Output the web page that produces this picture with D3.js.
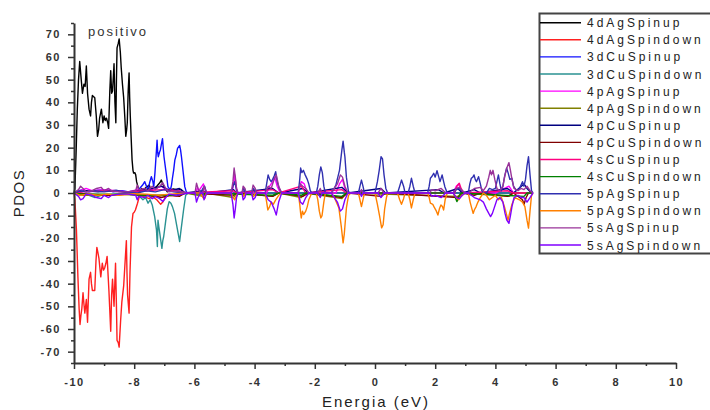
<!DOCTYPE html>
<html>
<head>
<meta charset="utf-8">
<script src="https://cdn.jsdelivr.net/npm/d3@7"></script>
<style>
  html, body { margin: 0; padding: 0; background: #fff; }
  svg { display: block; font-family: "Liberation Sans", Arial, sans-serif; }
  .axis path, .axis line { stroke: #333; }
  .axis text { fill: #333; font-size: 11px; font-weight: bold; letter-spacing: 1.5px; }
</style>
</head>
<body>
<div id="chart"></div>
<script>
const width = 710;
const height = 410;

const xTicks = [-10, -8, -6, -4, -2, 0, 2, 4, 6, 8, 10];
const xMinor = [-9, -7, -5, -3, -1, 1, 3, 5, 7, 9];
const yTicks = [-70, -60, -50, -40, -30, -20, -10, 0, 10, 20, 30, 40, 50, 60, 70];
const yMinor = [-75, -65, -55, -45, -35, -25, -15, -5, 5, 15, 25, 35, 45, 55, 65, 75];

// [energy eV, PDOS]
const ag4dUp = [[-10,0],[-9.97,2],[-9.93,18],[-9.89,37],[-9.85,50],[-9.81,58],[-9.76,50],[-9.72,44],[-9.67,48],[-9.63,47],[-9.59,56],[-9.55,44],[-9.5,37],[-9.45,34],[-9.42,40],[-9.39,43],[-9.31,42],[-9.26,34],[-9.22,25],[-9.18,28],[-9.15,33],[-9.09,37],[-9.04,31],[-9.0,34],[-8.96,32],[-8.92,33],[-8.88,31],[-8.85,28.5],[-8.81,45],[-8.78,54],[-8.75,44],[-8.72,45],[-8.69,52],[-8.67,57],[-8.64,40],[-8.61,31],[-8.59,50],[-8.57,64],[-8.53,66],[-8.5,68],[-8.46,62],[-8.43,55],[-8.39,48],[-8.35,42],[-8.31,33],[-8.28,25],[-8.25,28],[-8.23,31],[-8.2,45],[-8.17,53],[-8.15,42],[-8.13,34],[-8.1,24],[-8.07,14.5],[-8.04,10],[-8.02,8.8],[-7.98,9],[-7.95,8],[-7.92,5],[-7.89,3.5],[-7.85,1.5],[-7.82,0.6],[-7.75,2],[-7.7,1],[-7.6,2.5],[-7.5,3.5],[-7.45,1.5],[-7.35,2],[-7.25,3],[-7.15,4.5],[-7.1,5.7],[-7.05,4],[-6.98,2],[-6.9,0.5],[-6.8,1.5],[-6.7,1.8],[-6.55,1.2],[-6.45,1.6],[-6.35,0.3],[-6.2,0],[5.25,0]];
const ag4dDown = [[-10,0],[-9.97,-3],[-9.92,-16],[-9.87,-37],[-9.83,-51],[-9.8,-58],[-9.77,-54],[-9.74,-51],[-9.7,-44],[-9.67,-49],[-9.64,-53],[-9.59,-47],[-9.55,-57],[-9.5,-38],[-9.45,-35],[-9.42,-40],[-9.39,-43],[-9.31,-43],[-9.27,-30],[-9.24,-24],[-9.21,-26],[-9.17,-29],[-9.11,-37],[-9.06,-31],[-9.02,-34],[-8.98,-33],[-8.94,-31],[-8.9,-28],[-8.84,-43],[-8.8,-55],[-8.78,-61],[-8.75,-45],[-8.72,-38],[-8.67,-50],[-8.62,-31],[-8.59,-50],[-8.57,-65],[-8.53,-66],[-8.5,-68],[-8.45,-56],[-8.41,-48],[-8.35,-41],[-8.31,-32],[-8.26,-21],[-8.24,-35],[-8.22,-45],[-8.17,-53],[-8.14,-35],[-8.09,-15],[-8.04,-9],[-8.0,-8.5],[-7.96,-7.5],[-7.89,-4.5],[-7.82,-1],[-7.7,-1.5],[-7.5,-2.5],[-7.4,-1.5],[-7.25,-3],[-7.12,-5],[-7.05,-4],[-6.95,-1.5],[-6.8,-1],[-6.6,-1.2],[-6.4,-0.5],[-6.2,0],[5.25,0]];
const cu3dUp = [[-10,0],[-9.9,0.8],[-9.7,1.5],[-9.5,0.5],[-9.2,1.2],[-8.9,1.5],[-8.7,0.5],[-8.4,1],[-8.1,0.3],[-7.9,0.5],[-7.82,2],[-7.72,3.5],[-7.65,5],[-7.58,2.5],[-7.54,1.3],[-7.49,4.4],[-7.43,7.2],[-7.38,5],[-7.35,2.8],[-7.31,9],[-7.29,13],[-7.26,19],[-7.24,23.3],[-7.22,18],[-7.2,16],[-7.16,18],[-7.13,19],[-7.09,22],[-7.06,24],[-7.03,19],[-7.01,16],[-6.95,10],[-6.91,6],[-6.88,2.8],[-6.8,1.3],[-6.76,3.5],[-6.73,6.5],[-6.69,10],[-6.65,14.5],[-6.6,17],[-6.56,19.7],[-6.49,21],[-6.46,19],[-6.43,16],[-6.38,10],[-6.32,2.8],[-6.27,0.5],[-6.2,0],[5.25,0]];
const cu3dDown = [[-10,0],[-9.8,-0.8],[-9.5,-1],[-9.3,-2],[-9.1,-1],[-8.8,-0.8],[-8.5,-0.5],[-8.0,-0.5],[-7.82,-1.5],[-7.71,-3],[-7.62,-2],[-7.54,-4.5],[-7.47,-3],[-7.4,-5.3],[-7.32,-10.4],[-7.26,-16.3],[-7.23,-23.6],[-7.21,-12],[-7.18,-15],[-7.15,-17.8],[-7.12,-20.7],[-7.08,-24.4],[-7.05,-21],[-7.02,-19.2],[-6.95,-12],[-6.9,-7],[-6.84,-3.8],[-6.78,-4.5],[-6.73,-6],[-6.66,-9],[-6.62,-12],[-6.54,-17.8],[-6.49,-21.4],[-6.46,-18],[-6.43,-14.8],[-6.36,-7.5],[-6.29,-1],[-6.2,0],[5.25,0]];
const ag4pUp = [[-10,0],[-9.8,1],[-9.6,2],[-9.4,1],[-9.0,1.5],[-8.6,1],[-8.2,0.5],[-7.9,1.5],[-7.6,1],[-7.3,2],[-7.1,3],[-6.9,1],[-6.6,1.5],[-6.3,0],[-5.95,0],[-5.9,2.5],[-5.85,1],[-5.7,4],[-5.6,0],[-4.75,0],[-4.7,4],[-4.66,8],[-4.6,2],[-4.55,0],[-3.6,0],[-3.5,3],[-3.4,5],[-3.33,7],[-3.25,3],[-3.15,0],[-2.55,0],[-2.45,5],[-2.35,4],[-2.25,0],[-1.3,0],[-1.18,4],[-1.08,6],[-1.0,2],[-0.9,0],[2.6,0],[2.7,3],[2.78,4],[2.86,1],[2.95,0],[4.0,0],[4.3,2],[4.45,3],[4.6,0],[5.25,0]];
const ag4pDown = [[-10,0],[-9.7,-1],[-9.3,-1],[-8.9,-1],[-8.5,-0.5],[-7.9,-1],[-7.3,-1.5],[-7.0,-1],[-6.6,-1],[-6.3,0],[-5.7,-1.5],[-5.6,0],[-4.7,-2],[-4.6,0],[-3.4,-1.5],[-3.2,0],[-2.45,-2],[-2.3,0],[-1.1,-2.5],[-0.95,0],[2.75,-1.5],[2.9,0],[4.45,-1.5],[4.6,0],[5.25,0]];
const cu4pUp = [[-10,0],[-9.6,1],[-9.2,0.5],[-8.8,1],[-8.3,0.5],[-7.8,1],[-7.4,2],[-7.1,3],[-6.8,1],[-6.5,2],[-6.3,0],[-5.7,1],[-5.6,0],[-4.7,1.5],[-4.6,0],[-3.4,2],[-3.2,0],[-2.4,2],[-2.2,0],[-1.1,2.5],[-0.9,0],[0.2,2],[0.35,0],[2.1,1.5],[2.3,0],[2.75,2],[2.9,0],[3.3,1.5],[3.5,0],[4.4,2],[4.6,0],[4.95,4],[5.05,2],[5.2,0],[5.25,0]];
const cu4pDown = [[-10,0],[-9.5,-0.5],[-8.8,-1],[-8.2,-0.5],[-7.5,-1],[-7.1,-2],[-6.8,-1],[-6.5,-1.5],[-6.3,0],[-4.7,-1],[-4.6,0],[-3.4,-1.5],[-3.2,0],[-2.4,-1.5],[-2.2,0],[-1.1,-2],[-0.9,0],[0.2,-1.5],[0.35,0],[2.75,-2],[2.9,0],[3.3,-1],[3.5,0],[4.4,-1.5],[4.6,0],[4.9,-3],[4.95,-5],[5.02,-2],[5.1,0],[5.25,0]];
const cu4sUp = [[-10,0],[-9.7,0.5],[-9.0,1],[-8.3,0.5],[-7.6,1],[-7.1,1.5],[-6.6,1],[-6.3,0],[-4.7,1],[-4.6,0],[-3.4,1.5],[-3.2,0],[-2.45,3],[-2.35,1],[-2.3,0],[-1.1,1.5],[-0.95,0],[2.65,0],[2.72,3],[2.8,4.3],[2.86,2],[2.95,0],[4.4,1],[4.6,0],[5.25,0]];
const cu4sDown = [[-10,0],[-9.7,-0.5],[-9.0,-0.5],[-8.3,-0.5],[-7.6,-1],[-7.1,-1],[-6.6,-1],[-6.3,0],[-5.7,-0.5],[-5.6,0],[-3.4,-1],[-3.2,0],[-2.45,-1],[-2.3,0],[-1.1,-1.5],[-0.95,0],[2.6,0],[2.67,-2],[2.72,-3.8],[2.78,-2],[2.85,0],[4.95,-1.5],[5.05,0],[5.25,0]];
const ag5pUp = [[-10,0],[-9.8,1],[-9.6,0.5],[-9.3,1],[-9.0,0.5],[-8.6,1.2],[-8.3,0.3],[-7.9,0],[-7.6,1],[-7.3,0.5],[-7.0,1.5],[-6.7,0.5],[-6.3,0],[-5.8,0],[-5.72,2],[-5.66,3],[-5.6,0],[-4.78,0],[-4.72,3],[-4.66,5],[-4.6,1],[-4.55,0],[-4.42,0],[-4.36,2],[-4.3,0],[-4.1,0],[-4.03,2],[-3.97,0],[-3.65,0],[-3.6,4],[-3.55,8],[-3.5,6],[-3.45,5],[-3.4,6],[-3.35,7.5],[-3.3,9.4],[-3.25,5],[-3.18,2],[-3.1,0],[-2.55,0],[-2.5,6],[-2.47,11],[-2.43,9],[-2.38,10],[-2.32,8],[-2.25,6],[-2.2,4],[-2.15,1],[-2.1,0],[-1.95,0],[-1.9,3],[-1.85,8],[-1.8,11.5],[-1.75,9],[-1.7,3],[-1.65,0],[-1.45,0],[-1.4,1],[-1.3,3.5],[-1.18,10],[-1.1,19],[-1.06,22.9],[-1.02,18],[-1.0,16],[-0.95,7],[-0.88,0.5],[-0.8,0],[-0.55,0],[-0.5,3],[-0.45,5.7],[-0.4,3],[-0.35,0],[0.0,0],[0.08,5],[0.14,10],[0.2,16],[0.25,15],[0.3,8],[0.36,2],[0.42,0],[0.75,0],[0.82,3],[0.88,5.7],[0.95,3],[1.0,0],[1.1,0],[1.16,3],[1.21,6.5],[1.27,3],[1.33,0],[1.75,0],[1.8,3],[1.84,6.5],[1.9,7.5],[1.95,8.7],[2.0,7],[2.06,9.8],[2.12,7],[2.16,5],[2.23,8],[2.28,5],[2.32,2.8],[2.4,0],[2.6,0],[2.7,1.5],[2.8,2],[2.9,1],[3.0,0],[3.1,0],[3.15,4],[3.2,6.5],[3.25,7],[3.29,8],[3.33,6],[3.37,5],[3.44,7.2],[3.5,4],[3.55,1],[3.6,0],[3.7,0],[3.8,2],[3.9,1.5],[4.0,2],[4.05,5],[4.1,8],[4.15,4],[4.2,1],[4.25,3],[4.3,7],[4.37,11],[4.42,9],[4.48,6],[4.55,6.5],[4.6,3],[4.7,1],[4.8,2],[4.9,5],[4.95,3],[5.0,6],[5.05,12],[5.1,16],[5.15,8],[5.2,1],[5.25,0]];
const ag5pDown = [[-10,0],[-9.8,-1],[-9.5,-0.5],[-9.2,-1],[-8.9,-0.5],[-8.5,-1],[-8.0,-0.3],[-7.6,-0.5],[-7.2,-1],[-6.8,-0.5],[-6.3,0],[-5.8,0],[-5.72,-2],[-5.66,-2.5],[-5.6,0],[-4.78,0],[-4.72,-2],[-4.66,-3],[-4.6,-1],[-4.55,0],[-4.42,0],[-4.36,-1.5],[-4.3,0],[-4.1,0],[-4.03,-1.5],[-3.97,0],[-3.65,0],[-3.6,-4],[-3.56,-7.5],[-3.5,-6],[-3.45,-4],[-3.38,-5],[-3.3,-3],[-3.2,-1],[-3.1,0],[-2.55,0],[-2.5,-5],[-2.47,-9],[-2.45,-11],[-2.41,-8],[-2.37,-9.5],[-2.3,-8],[-2.25,-6],[-2.2,-3],[-2.1,0],[-1.95,0],[-1.9,-3],[-1.85,-8],[-1.8,-11],[-1.76,-10],[-1.7,-4],[-1.65,0],[-1.45,0],[-1.35,-2],[-1.2,-6.6],[-1.12,-14.8],[-1.06,-22],[-1.02,-18],[-1.0,-14.8],[-0.95,-6.6],[-0.88,-1],[-0.8,0],[-0.55,0],[-0.5,-3],[-0.45,-6],[-0.4,-3],[-0.35,0],[0.0,0],[0.08,-5],[0.15,-10],[0.22,-15.4],[0.27,-14],[0.32,-7],[0.38,-2],[0.42,0],[0.75,0],[0.82,-3],[0.88,-5],[0.95,-2.5],[1.0,0],[1.1,0],[1.16,-3],[1.21,-6.6],[1.27,-3],[1.33,0],[1.75,0],[1.8,-2],[1.84,-4.5],[1.92,-5],[1.98,-6.6],[2.04,-8],[2.09,-9.7],[2.14,-7],[2.19,-5.3],[2.24,-6],[2.28,-7.5],[2.33,-3],[2.4,0],[2.6,0],[2.7,-2],[2.78,-3],[2.85,-1.5],[3.0,0],[3.1,0],[3.16,-4],[3.22,-7],[3.26,-9],[3.3,-7.5],[3.36,-6],[3.42,-4],[3.5,-2],[3.6,0],[3.7,-1],[3.8,-3],[3.9,-2],[4.0,-1],[4.1,-3],[4.2,-2],[4.3,-6],[4.38,-10],[4.42,-12],[4.47,-9],[4.55,-5],[4.65,-2],[4.8,-3],[4.9,-4],[4.98,-6],[5.05,-12],[5.1,-15.5],[5.15,-8],[5.2,-1],[5.25,0]];
const ag5sUp = [[-10,0],[-9.85,1.5],[-9.78,3],[-9.7,2],[-9.6,0.5],[-9.4,1],[-9.25,2],[-9.1,2.5],[-9.0,1],[-8.85,2],[-8.75,1],[-8.5,0.5],[-8.2,0.5],[-7.95,1],[-7.9,3.5],[-7.85,1.5],[-7.65,2],[-7.55,1],[-7.4,3],[-7.3,1.5],[-7.15,3],[-7.05,4.5],[-6.95,2],[-6.85,0.5],[-6.6,1],[-6.4,0.5],[-6.2,0],[-5.98,0],[-5.93,4.3],[-5.88,2],[-5.8,0],[-5.72,0],[-5.68,3],[-5.62,1],[-5.58,0],[-4.78,0],[-4.72,5],[-4.68,11],[-4.64,7],[-4.6,2],[-4.55,0],[-4.42,0],[-4.38,3],[-4.32,2],[-4.28,0],[-4.1,0],[-4.05,3.5],[-3.98,2],[-3.93,0],[-3.65,0],[-3.55,3],[-3.45,2],[-3.35,6],[-3.28,8],[-3.2,3],[-3.1,0],[-2.55,0],[-2.48,4],[-2.4,3],[-2.3,2],[-2.2,0],[-1.9,0],[-1.82,2],[-1.75,0],[-1.45,0],[-1.35,2],[-1.25,4],[-1.15,8],[-1.08,7],[-1.0,3],[-0.9,0],[-0.5,0],[-0.45,1.5],[-0.4,0],[0.1,0],[0.2,2],[0.3,0],[1.8,0],[1.9,1.5],[2.0,1],[2.2,2],[2.35,0],[2.6,0],[2.7,2],[2.8,2.5],[2.9,1],[3.0,0],[3.1,0],[3.3,2],[3.5,2.5],[3.6,1],[3.7,3],[3.78,7],[3.83,10],[3.87,8],[3.92,10],[3.98,6],[4.05,2],[4.15,1],[4.25,3],[4.32,8],[4.38,11],[4.45,13.4],[4.5,10],[4.55,6],[4.62,2],[4.75,1],[4.85,2],[4.95,1.5],[5.05,3],[5.15,1],[5.25,0]];
const ag5sDown = [[-10,0],[-9.85,-1.5],[-9.78,-3],[-9.7,-2.5],[-9.6,-0.5],[-9.4,-1],[-9.25,-2],[-9.1,-2.5],[-9.0,-1],[-8.85,-2],[-8.75,-1],[-8.5,-0.5],[-8.2,-0.5],[-7.95,-1],[-7.9,-3],[-7.85,-1.5],[-7.65,-2],[-7.55,-1],[-7.4,-2.5],[-7.3,-1.5],[-7.15,-2.5],[-7.05,-3.8],[-6.95,-2],[-6.85,-0.5],[-6.6,-1],[-6.4,-0.5],[-6.2,0],[-5.98,0],[-5.93,-4],[-5.88,-2],[-5.8,0],[-5.72,0],[-5.68,-3],[-5.62,-1],[-5.58,0],[-4.78,0],[-4.72,-5],[-4.68,-11],[-4.64,-7],[-4.6,-2],[-4.55,0],[-4.42,0],[-4.38,-3],[-4.32,-2],[-4.28,0],[-4.1,0],[-4.05,-3],[-3.98,-2],[-3.93,0],[-3.65,0],[-3.55,-3],[-3.45,-4],[-3.35,-7],[-3.28,-9.7],[-3.2,-4],[-3.1,0],[-2.55,0],[-2.48,-4],[-2.4,-5],[-2.3,-2],[-2.2,0],[-1.9,0],[-1.82,-2],[-1.75,0],[-1.45,0],[-1.35,-2],[-1.25,-4],[-1.15,-8],[-1.08,-7],[-1.0,-3],[-0.9,0],[-0.5,0],[-0.45,-1.5],[-0.4,0],[0.1,0],[0.2,-2],[0.3,0],[1.8,0],[1.9,-1.5],[2.0,-1],[2.2,-2],[2.35,0],[2.6,0],[2.7,-2],[2.8,-2.5],[2.9,-1],[3.0,0],[3.1,0],[3.3,-2],[3.5,-3],[3.6,-4],[3.7,-7],[3.78,-9],[3.84,-10.4],[3.9,-9],[3.95,-7],[4.05,-3],[4.15,-2],[4.25,-4],[4.32,-9],[4.38,-12],[4.45,-13.4],[4.5,-10],[4.55,-6],[4.62,-2],[4.75,-1],[4.85,-2],[4.95,-2],[5.05,-4],[5.15,-2],[5.25,0]];

const seriesNames = ["4dAgSpinup", "4dAgSpindown", "3dCuSpinup", "3dCuSpindown", "4pAgSpinup", "4pAgSpindown", "4pCuSpinup", "4pCuSpindown", "4sCuSpinup", "4sCuSpindown", "5pAgSpinup", "5pAgSpindown", "5sAgSpinup", "5sAgSpindown"];
const seriesData = [ag4dUp, ag4dDown, cu3dUp, cu3dDown, ag4pUp, ag4pDown, cu4pUp, cu4pDown, cu4sUp, cu4sDown, ag5pUp, ag5pDown, ag5sUp, ag5sDown];
const seriesColors = ["#000000", "#ff2020", "#1010ff", "#2a9292", "#ff00ff", "#808000", "#000080", "#800000", "#ff0080", "#008000", "#3030b0", "#ff8000", "#993399", "#8000ff"];

const svg = d3.select("#chart").append("svg").attr("width", width).attr("height", height);

const x = d3.scaleLinear().domain([-10, 10]).range([74, 676]);
const y = d3.scaleLinear().domain([-75, 75]).range([363, 23]);

const line = d3.line().x((d) => x(d[0])).y((d) => y(d[1]));

seriesData.forEach((data, i) => {
  svg.append("path")
    .datum(data)
    .attr("fill", "none")
    .attr("stroke", seriesColors[i])
    .attr("stroke-width", 1.4)
    .attr("stroke-linejoin", "round")
    .attr("d", line);
});

// axes
svg.append("g").attr("class", "axis").attr("transform", "translate(74,0)")
  .call(d3.axisLeft(y).tickValues(yTicks).tickSize(6).tickSizeOuter(0).tickPadding(7).tickFormat((d) => String(d)));
svg.append("g").attr("class", "axis").attr("transform", "translate(74,0)")
  .call(d3.axisLeft(y).tickValues(yMinor).tickSize(3).tickSizeOuter(0).tickFormat(""))
  .select(".domain").remove();

svg.append("g").attr("class", "axis").attr("transform", "translate(0,363)")
  .call(d3.axisBottom(x).tickValues(xTicks).tickSize(6).tickSizeOuter(0).tickPadding(9).tickFormat((d) => String(d)));
svg.append("g").attr("class", "axis").attr("transform", "translate(0,363)")
  .call(d3.axisBottom(x).tickValues(xMinor).tickSize(3).tickSizeOuter(0).tickFormat(""))
  .select(".domain").remove();

svg.selectAll(".axis .domain").attr("stroke-width", 2);
svg.selectAll(".axis .tick line").attr("stroke-width", 1.5);

svg.append("text")
  .attr("transform", "translate(24,193) rotate(-90)")
  .attr("text-anchor", "middle")
  .attr("font-size", "15px")
  .attr("letter-spacing", "1.5px")
  .attr("fill", "#222")
  .text("PDOS");

svg.append("text")
  .attr("x", 376)
  .attr("y", 407)
  .attr("text-anchor", "middle")
  .attr("font-size", "15px")
  .attr("letter-spacing", "2px")
  .attr("fill", "#222")
  .text("Energia (eV)");

svg.append("text")
  .attr("x", 88)
  .attr("y", 36)
  .attr("font-size", "13px")
  .attr("letter-spacing", "2px")
  .attr("fill", "#333")
  .text("positivo");

// legend
const legend = svg.append("g").attr("transform", "translate(539,13)");
legend.append("rect")
  .attr("x", 0.5).attr("y", 0.5).attr("width", 200).attr("height", 240)
  .attr("fill", "#fff").attr("stroke", "#444").attr("stroke-width", 2);

seriesNames.forEach((name, i) => {
  const row = legend.append("g").attr("transform", `translate(0,${9.7 + i * 17.1})`);
  row.append("line").attr("x1", 1).attr("x2", 42).attr("y1", 0).attr("y2", 0)
    .attr("stroke", seriesColors[i]).attr("stroke-width", 1.4);
  row.append("text")
    .attr("x", 48).attr("y", 4.5)
    .attr("font-size", "12px")
    .attr("letter-spacing", "3px")
    .attr("fill", "#222")
    .text(name);
});
</script>
</body>
</html>
